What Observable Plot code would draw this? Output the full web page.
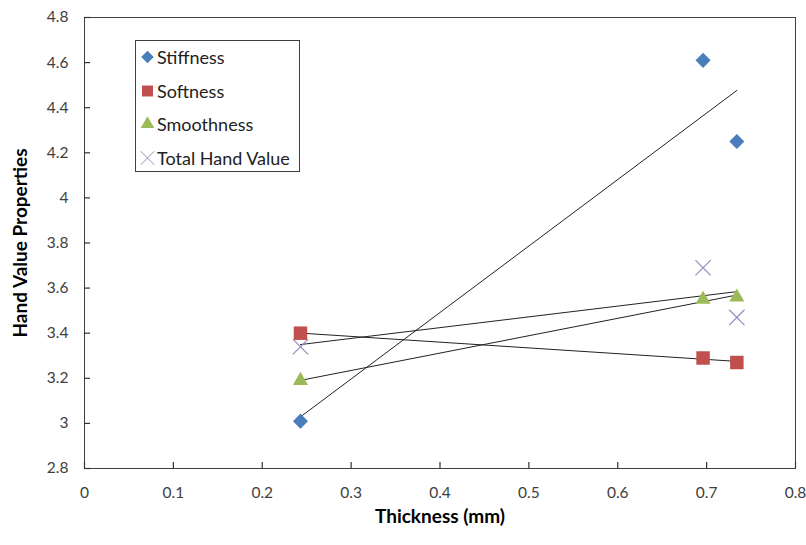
<!DOCTYPE html>
<html><head><meta charset="utf-8">
<script src="https://cdn.jsdelivr.net/npm/d3@7"></script>
<script src="https://cdn.jsdelivr.net/npm/@observablehq/plot@0.6"></script>
<style>
html,body{margin:0;padding:0;background:#fff;}
#wrap{position:relative;width:806px;height:545px;font-family:Lato,"Open Sans",sans-serif;}
#legend{position:absolute;left:135px;top:40px;width:165px;height:132px;border:1px solid #404040;background:#fff;box-sizing:border-box;}
.item{position:absolute;left:4px;height:22px;display:flex;align-items:center;font-size:18px;color:#222;white-space:nowrap;}
.item svg{margin-right:2px;}
</style></head>
<body><div id="wrap"><div id="legend"></div></div>
<script>
const thickness = [0.243, 0.696, 0.734];
const stiffness = [3.01, 4.61, 4.25];
const softness = [3.40, 3.29, 3.27];
const smoothness = [3.19, 3.55, 3.56];
const totalHand = [3.34, 3.69, 3.47];
const seriesNames = ["Stiffness", "Softness", "Smoothness", "Total Hand Value"];
const seriesValues = [stiffness, softness, smoothness, totalHand];
const xTicks = [0, 0.1, 0.2, 0.3, 0.4, 0.5, 0.6, 0.7, 0.8];
const yTicks = [2.8, 3, 3.2, 3.4, 3.6, 3.8, 4, 4.2, 4.4, 4.6, 4.8];

const W = 806, H = 545, ML = 84, MR = 11, MT = 17, MB = 77, TICK = 6;
const colors = {"Stiffness":"#4a7ebb","Softness":"#c0504d","Smoothness":"#9bbb59","Total Hand Value":"#9a88c2"};
const data = seriesNames.flatMap((s, k) => thickness.map((x, i) => ({series: s, x, y: seriesValues[k][i]})));
const by = s => data.filter(d => d.series === s);
const fmt = d => String(+d.toFixed(1));

const chart = Plot.plot({
  width: W, height: H,
  marginLeft: ML, marginRight: MR, marginTop: MT, marginBottom: MB,
  style: {fontFamily: "Lato, 'Open Sans', sans-serif", fontSize: "15px", color: "#404040", background: "#fff"},
  x: {domain: [0, 0.8]},
  y: {domain: [2.8, 4.8]},
  marks: [
    Plot.frame({stroke: "#404040", strokeWidth: 1}),
    Plot.axisY(yTicks, {tickSize: 0, tickPadding: 16, tickFormat: fmt, label: null, fontSize: 15.5}),
    Plot.axisX(xTicks, {tickSize: 0, tickPadding: 18, tickFormat: fmt, label: null, fontSize: 15.5}),
    Plot.ruleY(yTicks, {insetRight: W - ML - MR - TICK, stroke: "#333", strokeWidth: 1.2}),
    Plot.ruleX(xTicks, {insetTop: H - MT - MB - TICK, stroke: "#333", strokeWidth: 1.2}),
    Plot.text(["Hand Value Properties"], {frameAnchor: "left", textAnchor: "middle", rotate: -90, dx: -64, fontWeight: "bold", fontSize: 19, fill: "#000"}),
    Plot.text(["Thickness (mm)"], {frameAnchor: "bottom", textAnchor: "middle", dy: 54, fontWeight: "bold", fontSize: 19, fill: "#000"}),
    ...seriesNames.map(s => Plot.linearRegressionY(by(s), {x: "x", y: "y", ci: 0, stroke: "#222", strokeWidth: 1})),
    Plot.dot(by("Stiffness"), {x: "x", y: "y", symbol: "diamond2", r: 6.8, fill: colors["Stiffness"], stroke: "none"}),
    Plot.dot(by("Softness"), {x: "x", y: "y", symbol: "square", r: 7.6, fill: colors["Softness"], stroke: "none"}),
    Plot.dot(by("Smoothness"), {x: "x", y: "y", symbol: "triangle", r: 5.6, fill: colors["Smoothness"], stroke: "none"}),
    Plot.dot(by("Total Hand Value"), {x: "x", y: "y", symbol: "times", r: 7, stroke: colors["Total Hand Value"], strokeWidth: 1.2, fill: "none"})
  ]
});
document.getElementById("wrap").prepend(chart);

// legend
const legend = d3.select("#legend");
const symbolsFor = {"Stiffness": d3.symbolDiamond2, "Softness": d3.symbolSquare, "Smoothness": d3.symbolTriangle, "Total Hand Value": d3.symbolTimes};
const sizes = {"Stiffness": 100, "Softness": 120, "Smoothness": 80, "Total Hand Value": 120};
seriesNames.forEach((s, i) => {
  const item = legend.append("div").attr("class", "item").style("top", (5 + i * 33.7) + "px");
  const svg = item.append("svg").attr("width", 15).attr("height", 16);
  const p = svg.append("path").attr("transform", "translate(7.5,8)").attr("d", d3.symbol(symbolsFor[s], sizes[s])());
  if (s === "Total Hand Value") p.attr("fill", "none").attr("stroke", colors[s]).attr("stroke-width", 1);
  else p.attr("fill", colors[s]);
  item.append("span").text(s);
});
</script></body></html>
